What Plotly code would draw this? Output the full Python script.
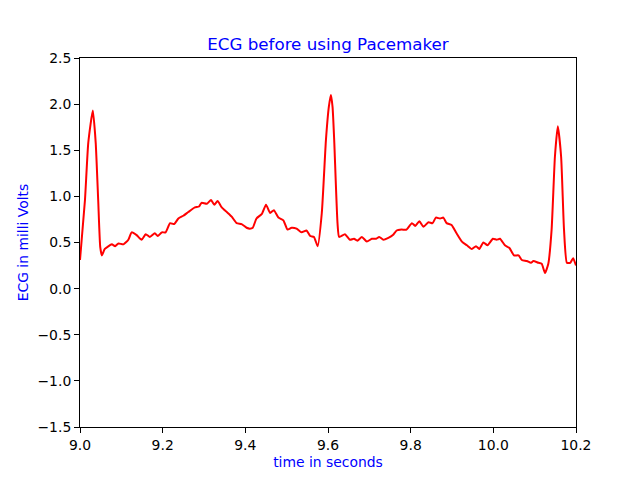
import plotly.graph_objects as go

time_s = [9.000, 9.012, 9.020, 9.031, 9.038, 9.044, 9.049, 9.053, 9.060, 9.077, 9.085, 9.093,
          9.105, 9.117, 9.125, 9.137, 9.149, 9.159, 9.169, 9.181, 9.188, 9.198, 9.207, 9.218,
          9.228, 9.238, 9.250, 9.262, 9.278, 9.288, 9.294, 9.307, 9.317, 9.325, 9.333, 9.343,
          9.355, 9.367, 9.379, 9.391, 9.403, 9.411, 9.418, 9.427, 9.440, 9.450, 9.460, 9.469,
          9.480, 9.492, 9.502, 9.512, 9.524, 9.536, 9.548, 9.557, 9.566, 9.575, 9.585, 9.595,
          9.602, 9.607, 9.611, 9.615, 9.623, 9.627, 9.641, 9.653, 9.663, 9.671, 9.682, 9.694,
          9.706, 9.716, 9.724, 9.734, 9.746, 9.757, 9.766, 9.778, 9.790, 9.803, 9.811, 9.821,
          9.831, 9.843, 9.853, 9.861, 9.871, 9.879, 9.887, 9.899, 9.911, 9.924, 9.936, 9.948,
          9.958, 9.966, 9.976, 9.986, 9.999, 10.008, 10.016, 10.028, 10.039, 10.050, 10.061,
          10.069, 10.081, 10.091, 10.097, 10.109, 10.117, 10.125, 10.133, 10.141, 10.149,
          10.156, 10.164, 10.171, 10.178, 10.186, 10.193, 10.200]
ecg_mv = [0.31, 0.96, 1.58, 1.93, 1.58, 0.96, 0.45, 0.36, 0.43, 0.48, 0.46, 0.49,
          0.48, 0.53, 0.61, 0.58, 0.53, 0.59, 0.56, 0.60, 0.57, 0.61, 0.61, 0.71,
          0.70, 0.76, 0.79, 0.83, 0.88, 0.89, 0.93, 0.92, 0.96, 0.91, 0.95, 0.88,
          0.83, 0.78, 0.71, 0.70, 0.66, 0.65, 0.66, 0.76, 0.81, 0.91, 0.82, 0.85,
          0.77, 0.74, 0.64, 0.66, 0.65, 0.61, 0.63, 0.57, 0.56, 0.46, 0.82, 1.61,
          1.97, 2.10, 1.97, 1.61, 0.71, 0.56, 0.59, 0.53, 0.54, 0.52, 0.56, 0.51,
          0.54, 0.54, 0.56, 0.53, 0.55, 0.58, 0.63, 0.64, 0.64, 0.71, 0.68, 0.73,
          0.67, 0.72, 0.71, 0.77, 0.76, 0.77, 0.71, 0.69, 0.60, 0.51, 0.47, 0.43,
          0.46, 0.43, 0.50, 0.47, 0.54, 0.53, 0.54, 0.47, 0.44, 0.36, 0.36,
          0.31, 0.30, 0.28, 0.30, 0.28, 0.27, 0.17, 0.27, 0.64, 1.43,
          1.76, 1.43, 0.64, 0.28, 0.28, 0.33, 0.25]

x_ticks = [9.0, 9.2, 9.4, 9.6, 9.8, 10.0, 10.2]
y_ticks = [-1.5, -1.0, -0.5, 0.0, 0.5, 1.0, 1.5, 2.0, 2.5]

fig = go.Figure()
fig.add_trace(go.Scatter(x=time_s, y=ecg_mv, mode="lines",
                         line=dict(color="red", width=2, shape="spline", smoothing=0.5)))

font = "DejaVu Sans"
fig.update_layout(
    width=640, height=480,
    margin=dict(l=72, r=72, t=50, b=61),
    paper_bgcolor="white", plot_bgcolor="white",
    showlegend=False,
    font=dict(family=font, size=13.9, color="black"),
    title=dict(text="ECG before using Pacemaker", x=(328 - 8) / 640, xanchor="center",
               y=1 - 36 / 480, yanchor="middle",
               font=dict(family=font, size=16.7, color="blue")),
)
axis_common = dict(showgrid=False, zeroline=False, showline=True, linecolor="black",
                   linewidth=1, mirror=True, ticks="outside", ticklen=5, tickwidth=1,
                   tickcolor="black", tickfont=dict(family=font, size=13.9, color="black"))
fig.update_xaxes(range=[9.0, 10.2], tickvals=x_ticks,
                 ticktext=[f"{v:.1f}" for v in x_ticks],
                 title=dict(text="time in seconds", font=dict(family=font, size=13.9, color="blue"),
                            standoff=5),
                 **axis_common)
fig.update_yaxes(range=[-1.5, 2.5], tickvals=y_ticks,
                 ticktext=[f"{v:.1f}".replace("-", "\u2212") for v in y_ticks],
                 title=dict(text="ECG in milli Volts", font=dict(family=font, size=13.9, color="blue"),
                            standoff=5),
                 **axis_common)

fig.write_html("out.html")
